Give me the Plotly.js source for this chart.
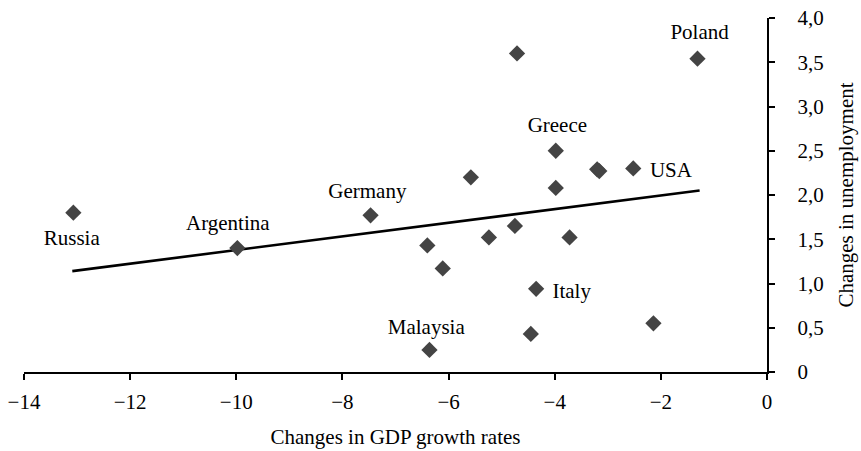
<!DOCTYPE html>
<html>
<head>
<meta charset="utf-8">
<script src="https://cdn.plot.ly/plotly-3.0.1.min.js"></script>
<style>html,body{margin:0;padding:0;background:#fff;}#chart{width:861px;height:451px;}</style>
</head>
<body>
<div id="chart"></div>
<script>
// Country points: changes in GDP growth rates vs changes in unemployment
const gdpChange = [-13.07, -9.98, -7.47, -4.71, -3.98, -5.58, -3.98, -4.75, -5.24, -3.72, -6.40, -6.11, -4.35, -4.45, -6.36, -3.20, -3.16, -2.52, -1.31, -2.14];
const unempChange = [1.80, 1.40, 1.77, 3.60, 2.50, 2.20, 2.08, 1.65, 1.52, 1.52, 1.43, 1.17, 0.94, 0.43, 0.25, 2.29, 2.27, 2.30, 3.54, 0.55];

// Trend line endpoints
const trendX = [-13.09, -1.27];
const trendY = [1.14, 2.05];

// Country labels
const labelText = ["Russia", "Argentina", "Germany", "Greece", "Italy", "Malaysia", "Poland", "USA"];
const labelX = [-13.1, -10.16, -7.53, -3.95, -3.68, -6.42, -1.27, -1.81];
const labelY = [1.49, 1.66, 2.03, 2.77, 0.90, 0.49, 3.82, 2.26];

// Axis ticks
const xTickVals = [-14, -12, -10, -8, -6, -4, -2, 0];
const xTickText = ["\u221214", "\u221212", "\u221210", "\u22128", "\u22126", "\u22124", "\u22122", "0"];
const yTickVals = [0, 0.5, 1, 1.5, 2, 2.5, 3, 3.5, 4];
const yTickText = ["0", "0,5", "1,0", "1,5", "2,0", "2,5", "3,0", "3,5", "4,0"];

const FONT = "Liberation Serif, Times New Roman, serif";

const traces = [
  {
    x: trendX, y: trendY, type: "scatter", mode: "lines",
    line: {color: "#000000", width: 2.6}, hoverinfo: "skip", showlegend: false
  },
  {
    x: gdpChange, y: unempChange, type: "scatter", mode: "markers",
    marker: {symbol: "diamond", size: 12.5, color: "#444444", line: {width: 0}},
    showlegend: false
  },
  {
    x: labelX, y: labelY, text: labelText, type: "scatter", mode: "text",
    textposition: "middle center",
    textfont: {family: FONT, size: 21, color: "#000000"},
    hoverinfo: "skip", showlegend: false
  }
];

const layout = {
  width: 861, height: 451,
  margin: {l: 24, r: 94.3, t: 18.3, b: 79.3, pad: 0},
  paper_bgcolor: "#ffffff", plot_bgcolor: "#ffffff",
  font: {family: FONT, size: 21, color: "#000000"},
  showlegend: false,
  xaxis: {
    range: [-14, 0], tickvals: xTickVals, ticktext: xTickText,
    showgrid: false, zeroline: false,
    showline: true, linecolor: "#000000", linewidth: 2.3,
    ticks: "outside", ticklen: 6, tickwidth: 2, tickcolor: "#000000",
    ticklabelstandoff: 3,
    tickfont: {family: FONT, size: 21, color: "#000000"},
    title: {text: "Changes in GDP growth rates", font: {family: FONT, size: 21, color: "#000000"}, standoff: 17}
  },
  yaxis: {
    range: [0, 4], side: "right", tickvals: yTickVals, ticktext: yTickText,
    showgrid: false, zeroline: false,
    showline: true, linecolor: "#000000", linewidth: 2.3,
    ticks: "outside", ticklen: 6, tickwidth: 2, tickcolor: "#000000",
    ticklabelstandoff: 18,
    tickfont: {family: FONT, size: 21, color: "#000000"},
    title: {text: "Changes in unemployment", font: {family: FONT, size: 21, color: "#000000"}, standoff: 16}
  }
};

Plotly.newPlot("chart", traces, layout, {displayModeBar: false, staticPlot: true});
</script>
</body>
</html>
